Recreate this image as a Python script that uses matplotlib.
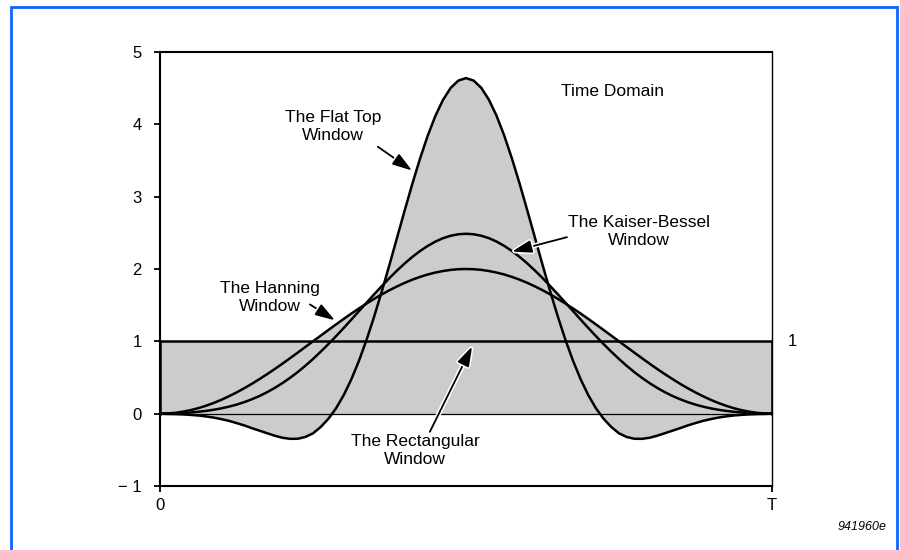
import matplotlib
matplotlib.use("Agg")
import matplotlib.pyplot as plt
import matplotlib.patheffects as pe
from matplotlib.patches import Rectangle

plt.rcParams['font.family'] = ['Liberation Sans', 'DejaVu Sans']

# ---------- data: time-domain windows (time as fraction of T, amplitude) ----------
t = [0.0000, 0.0125, 0.0250, 0.0375, 0.0500, 0.0625, 0.0750, 0.0875, 0.1000, 0.1125,
     0.1250, 0.1375, 0.1500, 0.1625, 0.1750, 0.1875, 0.2000, 0.2125, 0.2250, 0.2375,
     0.2500, 0.2625, 0.2750, 0.2875, 0.3000, 0.3125, 0.3250, 0.3375, 0.3500, 0.3625,
     0.3750, 0.3875, 0.4000, 0.4125, 0.4250, 0.4375, 0.4500, 0.4625, 0.4750, 0.4875,
     0.5000,
     0.5125, 0.5250, 0.5375, 0.5500, 0.5625, 0.5750, 0.5875, 0.6000, 0.6125, 0.6250,
     0.6375, 0.6500, 0.6625, 0.6750, 0.6875, 0.7000, 0.7125, 0.7250, 0.7375, 0.7500,
     0.7625, 0.7750, 0.7875, 0.8000, 0.8125, 0.8250, 0.8375, 0.8500, 0.8625, 0.8750,
     0.8875, 0.9000, 0.9125, 0.9250, 0.9375, 0.9500, 0.9625, 0.9750, 0.9875, 1.0000]

hanning = [0.000, 0.003, 0.012, 0.028, 0.049, 0.076, 0.109, 0.147, 0.191, 0.240,
           0.293, 0.351, 0.412, 0.478, 0.546, 0.617, 0.691, 0.767, 0.844, 0.922,
           1.000, 1.078, 1.156, 1.233, 1.309, 1.383, 1.454, 1.522, 1.588, 1.649,
           1.707, 1.760, 1.809, 1.853, 1.891, 1.924, 1.951, 1.972, 1.988, 1.997,
           2.000,
           1.997, 1.988, 1.972, 1.951, 1.924, 1.891, 1.853, 1.809, 1.760, 1.707,
           1.649, 1.588, 1.522, 1.454, 1.383, 1.309, 1.233, 1.156, 1.078, 1.000,
           0.922, 0.844, 0.767, 0.691, 0.617, 0.546, 0.478, 0.412, 0.351, 0.293,
           0.240, 0.191, 0.147, 0.109, 0.076, 0.049, 0.028, 0.012, 0.003, 0.000]

kaiser = [0.000, 0.002, 0.005, 0.009, 0.016, 0.026, 0.038, 0.054, 0.073, 0.097,
          0.125, 0.159, 0.199, 0.244, 0.297, 0.356, 0.422, 0.495, 0.575, 0.662,
          0.756, 0.856, 0.961, 1.070, 1.183, 1.299, 1.417, 1.534, 1.651, 1.765,
          1.875, 1.980, 2.078, 2.168, 2.249, 2.319, 2.379, 2.426, 2.460, 2.480,
          2.487,
          2.480, 2.460, 2.426, 2.379, 2.319, 2.249, 2.168, 2.078, 1.980, 1.875,
          1.765, 1.651, 1.534, 1.417, 1.299, 1.183, 1.070, 0.961, 0.856, 0.756,
          0.662, 0.575, 0.495, 0.422, 0.356, 0.297, 0.244, 0.199, 0.159, 0.125,
          0.097, 0.073, 0.054, 0.038, 0.026, 0.016, 0.009, 0.005, 0.002, 0.000]

flattop = [0.000, -0.004, -0.006, -0.010, -0.017, -0.025, -0.038, -0.054, -0.075, -0.099,
           -0.130, -0.162, -0.200, -0.235, -0.270, -0.305, -0.333, -0.348, -0.347, -0.322,
           -0.272, -0.185, -0.072, 0.072, 0.253, 0.472, 0.729, 1.020, 1.344, 1.693,
           2.060, 2.438, 2.815, 3.183, 3.529, 3.844, 4.117, 4.339, 4.504, 4.605,
           4.639,
           4.605, 4.504, 4.339, 4.117, 3.844, 3.529, 3.183, 2.815, 2.438, 2.060,
           1.693, 1.344, 1.020, 0.729, 0.472, 0.253, 0.072, -0.072, -0.185, -0.272,
           -0.322, -0.347, -0.348, -0.333, -0.305, -0.270, -0.235, -0.200, -0.162, -0.130,
           -0.099, -0.075, -0.054, -0.038, -0.025, -0.017, -0.010, -0.006, -0.004, 0.000]

rect_t = [0, 0, 1, 1]
rect_y = [0, 1, 1, 0]

yticks = [-1, 0, 1, 2, 3, 4, 5]
ytick_labels = ["\u2212 1", "0", "1", "2", "3", "4", "5"]
xticks = [0, 1]
xtick_labels = ["0", "T"]

FILL = "#cccccc"
LW = 1.8

fig = plt.figure(figsize=(9, 5.5), dpi=100)
ax = fig.add_axes([160/900, 1-486/550, 612/900, 434/550])

# grey areas under every window
for y in (flattop, kaiser, hanning):
    ax.fill_between(t, 0, y, color=FILL, lw=0, zorder=1)
ax.fill_between(rect_t, 0, rect_y, color=FILL, lw=0, zorder=1)

ax.axhline(0, color="black", lw=0.9, zorder=2)
for y in (flattop, kaiser, hanning):
    ax.plot(t, y, color="black", lw=LW, zorder=3, solid_joinstyle="round")
ax.plot(rect_t, rect_y, color="black", lw=LW, zorder=3)

ax.set_xlim(0, 1)
ax.set_ylim(-1, 5)
ax.set_yticks(yticks)
ax.set_yticklabels(ytick_labels)
ax.set_xticks(xticks)
ax.set_xticklabels(xtick_labels)
ax.tick_params(axis="both", direction="out", length=4.5, width=1.3,
               labelsize=12, color="black")
ax.tick_params(axis="y", pad=8.5)
ax.tick_params(axis="x", pad=4)
for side in ("left", "bottom", "top"):
    ax.spines[side].set_linewidth(1.5)
ax.spines["right"].set_linewidth(1.0)

# ---------- labels and arrows ----------
txt = dict(fontsize=12.5, ha="center", va="center", linespacing=1.25, zorder=5)
ax.text(0.283, 3.97, "The Flat Top\nWindow", **txt)
ax.text(0.180, 1.60, "The Hanning\nWindow", **txt)
ax.text(0.417, -0.51, "The Rectangular\nWindow", **txt)
ax.text(0.783, 2.52, "The Kaiser-Bessel\nWindow", **txt)
ax.text(0.739, 4.45, "Time Domain", **txt)
ax.text(1.025, 1.0, "1", fontsize=12, ha="left", va="center")

arrows = [((0.356, 3.69), (0.412, 3.36)),
          ((0.245, 1.51), (0.286, 1.29)),
          ((0.441, -0.25), (0.510, 0.93)),
          ((0.665, 2.44), (0.575, 2.24))]
for tail, tip in arrows:
    ax.annotate("", xy=tip, xytext=tail, zorder=6,
                arrowprops=dict(arrowstyle="-|>,head_length=1.2,head_width=0.38",
                                color="black", lw=1.3, shrinkA=0, shrinkB=0,
                                mutation_scale=10,
                                path_effects=[pe.withStroke(linewidth=3.5, foreground="white")]))

fig.text(887/900, 1-527/550, "941960e", fontsize=9, style="italic",
         ha="right", va="center")

# blue frame around the figure
fig.patches.append(Rectangle((11/900, -0.05), 886/900, 1-7/550+0.05,
                             transform=fig.transFigure, fill=False,
                             edgecolor="#0a66ff", lw=2.0))

fig.savefig("out.png", dpi=100)
